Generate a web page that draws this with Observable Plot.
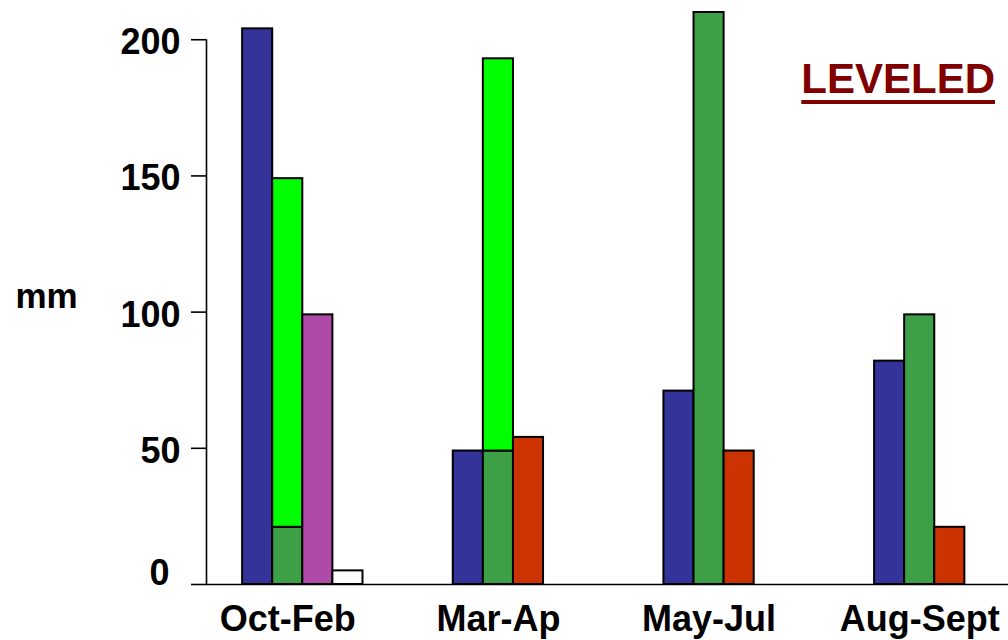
<!DOCTYPE html>
<html>
<head>
<meta charset="utf-8">
<script src="https://cdn.jsdelivr.net/npm/d3@7"></script>
<script src="https://cdn.jsdelivr.net/npm/@observablehq/plot@0.6"></script>
<style>
  html, body { margin: 0; padding: 0; background: #fff; overflow: hidden; }
  #wrap { position: relative; width: 1008px; height: 640px; }
  #tag {
    position: absolute; right: 13px; top: 58px;
    font: bold 42px "Liberation Sans", Arial, sans-serif; line-height: 1;
    color: #800000; text-decoration: underline; text-decoration-thickness: 3.5px;
    text-underline-offset: 7px; white-space: nowrap;
  }
</style>
</head>
<body>
<div id="wrap"><div id="tag">LEVELED</div></div>
<script>
// ---- data ----
const categories = ["Oct-Feb", "Mar-Ap", "May-Jul", "Aug-Sept"];
const blueSeries       = [204, 49, 71, 82];
const darkGreenSeries  = [21, 49, 210, 99];
const brightGreenExtra = [128, 144, 0, 0];   // stacked on top of dark green
const magentaSeries    = [99, 0, 0, 0];
const redSeries        = [0, 54, 49, 21];
const whiteSeries      = [5, 0, 0, 0];
const yTicks = [0, 50, 100, 150, 200];

const seriesNames  = ["blue", "darkGreen", "brightGreen", "magenta", "red", "white"];
const seriesColors = ["#333399", "#3da047", "#00ff00", "#b04aa8", "#cc3300", "#ffffff"];

// ---- layout helpers (slots within a category group) ----
const GROUP = 7; // slots per category group (bars + gap)
const seriesDefs = [
  {name: "blue",        values: blueSeries,       slot: 0},
  {name: "darkGreen",   values: darkGreenSeries,  slot: 1},
  {name: "brightGreen", values: brightGreenExtra, slot: 1, base: darkGreenSeries},
  {name: "magenta",     values: magentaSeries,    slot: 2},
  {name: "red",         values: redSeries,        slot: 2},
  {name: "white",       values: whiteSeries,      slot: 3}
];
const rows = [];
for (const s of seriesDefs) {
  categories.forEach((c, i) => {
    const v = s.values[i];
    if (!v) return;
    const b = s.base ? s.base[i] : 0;
    rows.push({category: c, series: s.name, pos: i * GROUP + s.slot, y1: b, y2: b + v});
  });
}
const centers = categories.map((c, i) => i * GROUP + 1.5);
const xDomain = [-1.2, 25.45];

const font = '"Liberation Sans", Arial, sans-serif';

const chart = Plot.plot({
  width: 1008, height: 640,
  marginLeft: 206, marginRight: 0, marginTop: 12, marginBottom: 56,
  style: {fontFamily: font, background: "#fff", color: "#000"},
  x: {type: "linear", domain: xDomain, axis: null},
  y: {domain: [0, 210], axis: null},
  color: {domain: seriesNames, range: seriesColors},
  marks: [
    Plot.rectY(rows, {x1: "pos", x2: d => d.pos + 1, y1: "y1", y2: "y2", fill: "series", stroke: "#000", strokeWidth: 2}),
    Plot.ruleY([0], {stroke: "#000", strokeWidth: 1.6}),
    Plot.ruleX([xDomain[0]], {y1: 0, y2: d3.max(yTicks), stroke: "#000", strokeWidth: 1.6}),
    // y ticks (lines only)
    Plot.axisY({ticks: yTicks, label: null, tickSize: 15, strokeWidth: 1.6, tickFormat: () => ""}),
    // y tick labels
    Plot.text(yTicks.filter(d => d > 0), {y: d => d, text: d => String(d), frameAnchor: "left", textAnchor: "end", dx: -26, dy: 3, fontSize: 36, fontWeight: "bold"}),
    Plot.text([yTicks[0]], {y: d => d, text: d => String(d), frameAnchor: "left", textAnchor: "end", dx: -37, dy: -11, fontSize: 36, fontWeight: "bold"}),
    Plot.axisX({ticks: centers, label: null, tickSize: 0, tickPadding: 21, fontSize: 36, fontWeight: "bold",
      tickFormat: v => categories[Math.round((v - 1.5) / GROUP)]}),
    Plot.text(["mm"], {frameAnchor: "left", dx: -160, dy: -2, textAnchor: "middle", fontSize: 35, fontWeight: "bold"})
  ]
});
document.getElementById("wrap").prepend(chart);
</script>
</body>
</html>
